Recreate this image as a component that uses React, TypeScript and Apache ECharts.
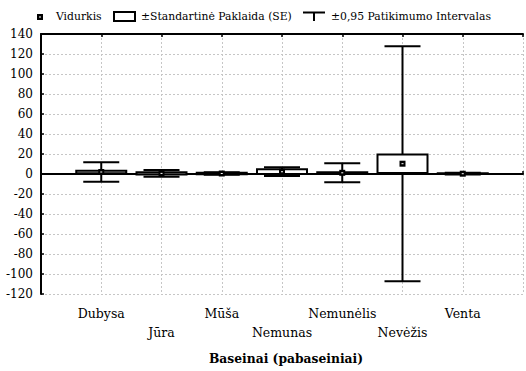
import React, { useEffect, useRef } from "react";
import * as echarts from "echarts";

// River basins (sub-basins) on the x axis, one slot each at 1..7
const categories = ["Dubysa", "Jūra", "Mūša", "Nemunas", "Nemunėlis", "Nevėžis", "Venta"];
// Mean of each basin
const means = [2.0, 0.6, 0.5, 2.35, 1.2, 10.3, 0.3];
// ± standard error (box half-height)
const standardErrors = [1.2, 1.2, 0.7, 2.35, 0.65, 9.3, 0.4];
// ± 0.95 confidence interval half-width (whiskers)
const ciHalfWidths = [9.7, 3.3, 1.2, 4.35, 9.5, 117.5, 0.9];

const yTicks = { min: -120, max: 140, step: 20 };

const legendLabels = ["Vidurkis", "±Standartinė Paklaida (SE)", "±0,95 Patikimumo Intervalas"];
const axisTitle = "Baseinai (pabaseiniai)";

const FONT = "DejaVu Serif";

export default function App() {
  const ref = useRef<HTMLDivElement>(null);

  useEffect(() => {
    if (!ref.current) return;
    const chart = echarts.init(ref.current, undefined, { renderer: "svg" });

    const boxData = categories.map((_, i) => [i + 1, means[i], standardErrors[i], ciHalfWidths[i]]);

    const catFormatter = (v: number) => {
      const r = Math.round(v);
      if (Math.abs(v - r) > 1e-6) return "";
      const i = r - 1;
      if (i < 0 || i >= categories.length) return "";
      return i % 2 === 1 ? "\n" + categories[i] : categories[i];
    };

    const gridDash = { type: [2, 2] as number[], color: "#c6c6c6", width: 1 };

    const legendText = (x: number, text: string) => ({
      type: "text",
      x,
      y: 16,
      style: { text, fontFamily: FONT, fontSize: 10.8, fill: "#000", verticalAlign: "middle" },
    });

    chart.setOption({
      animation: false,
      backgroundColor: "#ffffff",
      grid: { left: 41, right: -3, top: 34, bottom: 77, containLabel: false },
      xAxis: [
        {
          type: "value",
          min: 0,
          max: 8,
          interval: 1,
          position: "bottom",
          axisLine: { show: true, lineStyle: { color: "#000", width: 2 } },
          axisTick: { show: true, inside: true, length: 3, lineStyle: { color: "#000", width: 1.5 } },
          axisLabel: {
            formatter: catFormatter,
            fontFamily: FONT,
            fontSize: 12.5,
            color: "#000",
            margin: 10,
            lineHeight: 19.3,
          },
          splitLine: { show: true, lineStyle: gridDash },
        },
        {
          type: "value",
          min: 0,
          max: 8,
          interval: 1,
          position: "top",
          axisLine: { show: true, lineStyle: { color: "#000", width: 2 } },
          axisTick: { show: true, inside: true, length: 3, lineStyle: { color: "#000", width: 1.5 } },
          axisLabel: { show: false },
          splitLine: { show: false },
        },
      ],
      yAxis: {
        type: "value",
        min: yTicks.min,
        max: yTicks.max,
        interval: yTicks.step,
        axisLine: { show: true, lineStyle: { color: "#000", width: 2 } },
        axisTick: { show: true, inside: true, length: 3, lineStyle: { color: "#000", width: 1.5 } },
        axisLabel: { fontFamily: FONT, fontSize: 12, color: "#000", margin: 8 },
        splitLine: { show: true, lineStyle: gridDash },
      },
      series: [
        {
          type: "custom",
          xAxisIndex: 0,
          yAxisIndex: 0,
          data: boxData,
          encode: { x: 0, y: 1 },
          renderItem: (_params: any, api: any) => {
            const xv = api.value(0);
            const m = api.value(1);
            const se = api.value(2);
            const ci = api.value(3);
            const x = api.coord([xv, m])[0];
            const yMean = api.coord([xv, m])[1];
            const yCiTop = api.coord([xv, m + ci])[1];
            const yCiBot = api.coord([xv, m - ci])[1];
            const yBoxTop = api.coord([xv, m + se])[1];
            const yBoxBot = api.coord([xv, m - se])[1];
            const capHalf = 18;
            const boxHalf = 25;
            const stroke = { stroke: "#000", lineWidth: 2 };
            return {
              type: "group",
              children: [
                { type: "line", shape: { x1: x, y1: yCiTop, x2: x, y2: yCiBot }, style: stroke },
                { type: "line", shape: { x1: x - capHalf, y1: yCiTop, x2: x + capHalf, y2: yCiTop }, style: stroke },
                { type: "line", shape: { x1: x - capHalf, y1: yCiBot, x2: x + capHalf, y2: yCiBot }, style: stroke },
                {
                  type: "rect",
                  shape: { x: x - boxHalf, y: yBoxTop, width: boxHalf * 2, height: yBoxBot - yBoxTop },
                  style: { fill: "#fff", stroke: "#000", lineWidth: 2 },
                },
                { type: "rect", shape: { x: x - 3, y: yMean - 3, width: 6, height: 6 }, style: { fill: "#000" } },
                { type: "rect", shape: { x: x - 1, y: yMean - 0.5, width: 2, height: 1 }, style: { fill: "#fff" } },
              ],
            };
          },
        },
      ],
      graphic: [
        // legend: mean marker
        { type: "rect", shape: { x: 37, y: 14, width: 6, height: 6 }, style: { fill: "#000" } },
        { type: "rect", shape: { x: 39, y: 16.5, width: 2, height: 1 }, style: { fill: "#fff" } },
        legendText(56, legendLabels[0]),
        // legend: standard error box
        {
          type: "rect",
          shape: { x: 114, y: 12, width: 21, height: 9 },
          style: { fill: "#fff", stroke: "#000", lineWidth: 2 },
        },
        legendText(141, legendLabels[1]),
        // legend: confidence interval whisker
        { type: "line", shape: { x1: 303, y1: 12.5, x2: 325, y2: 12.5 }, style: { stroke: "#000", lineWidth: 2 } },
        { type: "line", shape: { x1: 314, y1: 12.5, x2: 314, y2: 21 }, style: { stroke: "#000", lineWidth: 2 } },
        legendText(331, legendLabels[2]),
        // x axis title
        {
          type: "text",
          x: 286,
          y: 358,
          style: {
            text: axisTitle,
            fontFamily: FONT,
            fontSize: 12.3,
            fontWeight: "bold",
            fill: "#000",
            align: "center",
            verticalAlign: "middle",
          },
        },
      ],
    });

    return () => chart.dispose();
  }, []);

  return (
    <div
      ref={ref}
      style={{ position: "absolute", left: 0, top: 0, width: 526, height: 371, background: "#fff" }}
    />
  );
}
